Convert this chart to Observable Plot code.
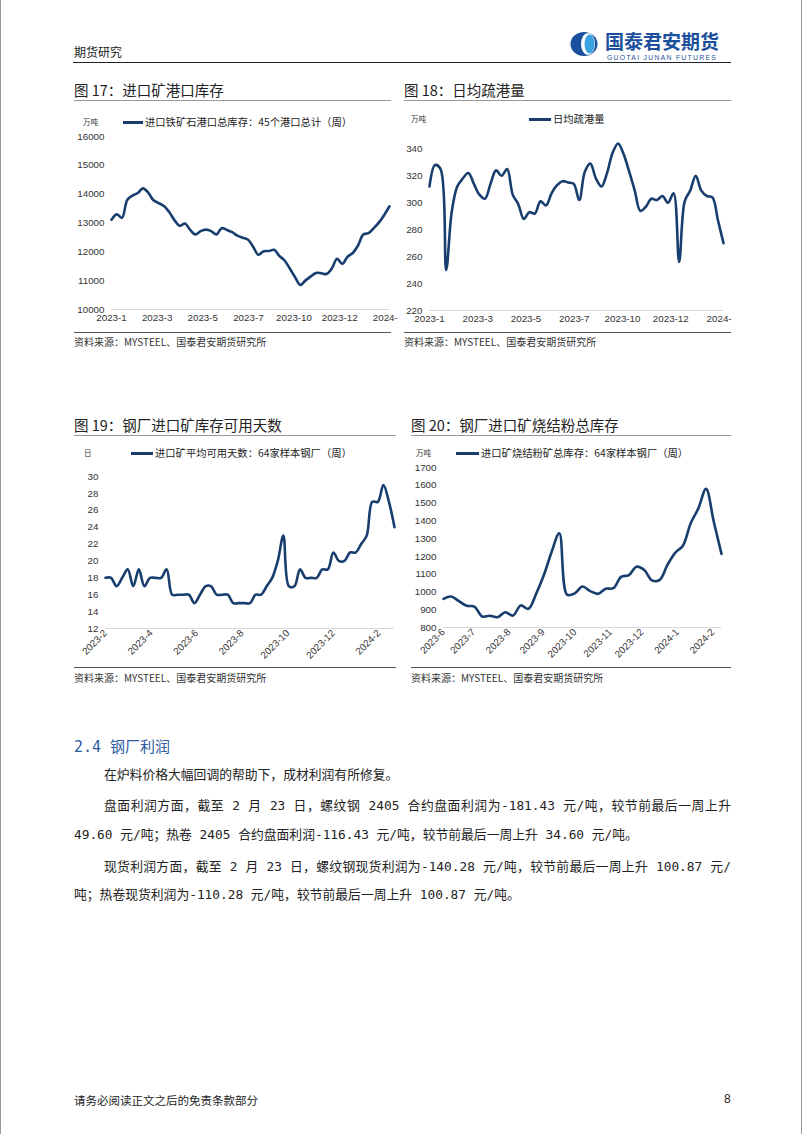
<!DOCTYPE html>
<html><head><meta charset="utf-8">
<script src="https://cdn.jsdelivr.net/npm/d3@7"></script>
<script src="https://cdn.jsdelivr.net/npm/@observablehq/plot@0.6"></script>
<style>
body{margin:0;background:#fff;}
#page{position:relative;width:802px;height:1134px;overflow:hidden;background:#fff;box-sizing:border-box;border-left:1px solid #999;border-right:1px solid #999;font-family:"Noto Sans CJK SC",sans-serif;}
.abs{position:absolute;white-space:nowrap;}
</style></head>
<body><div id="page">
<svg style="position:absolute;left:568px;top:31px" width="32" height="26">
  <ellipse cx="15" cy="13" rx="13.5" ry="12" fill="#1c4f9c"/>
  <ellipse cx="19" cy="13" rx="7" ry="11" fill="#fff"/>
  <ellipse cx="20.5" cy="13" rx="5" ry="9.5" fill="#3aa2e2"/>
</svg>
</div>
<script>
// ---------- data ----------
const c17Labels = ["2023-1","2023-3","2023-5","2023-7","2023-10","2023-12","2024-"];
const c17TickPos = [0, 8.7, 17.4, 26.1, 34.8, 43.5, 52.2];
const c17Values = [13115,13300,13180,13800,13950,14040,14200,14050,13790,13690,13590,13380,13100,12900,12980,12760,12600,12720,12770,12720,12600,12820,12760,12680,12560,12490,12430,12180,11900,12020,12030,12070,11860,11700,11420,11120,10850,11010,11150,11270,11260,11230,11420,11760,11580,11830,11960,12220,12600,12650,12820,13020,13280,13580];
const c17YTicks = [10000,11000,12000,13000,14000,15000,16000];

const c18Labels = ["2023-1","2023-3","2023-5","2023-7","2023-10","2023-12","2024-"];
const c18TickPos = [0, 8.7, 17.4, 26.1, 34.8, 43.5, 52.2];
const c18Values = [312,328,325,250,293,312,318,322,314,306,303,314,324,320,325,306,299,288,293,292,301,298,307,313,316,315,314,302,323,329,318,312,322,337,344,336,323,309,294,297,303,302,305,300,307,256,301,309,320,309,305,304,287,270];
const c18YTicks = [220,240,260,280,300,320,340];

const c19Labels = ["2023-2","2023-4","2023-6","2023-8","2023-10","2023-12","2024-2"];
const c19TickPos = [0, 8.2, 16.4, 24.6, 32.8, 41, 49.2];
const c19Values = [18,18,17,18,19,17,19,17,18,18,18,19,16,16,16,16,15,16,17,17,16,16,16,15,15,15,15,16,16,17,18,20,23,17,17,19,18,18,18,19,19,21,20,20,21,21,22,23,27,27,29,27,24];
const c19YTicks = [12,14,16,18,20,22,24,26,28,30];

const c20Labels = ["2023-6","2023-7","2023-8","2023-9","2023-10","2023-11","2023-12","2024-1","2024-2"];
const c20TickPos = [0, 3.9, 8.5, 12.9, 17, 21.6, 25.7, 30.3, 34.9];
const c20Values = [961,974,948,922,918,862,866,858,886,867,924,905,990,1095,1225,1330,985,992,1031,1005,989,1018,1021,1085,1095,1142,1123,1065,1068,1152,1220,1260,1385,1470,1580,1395,1214];
const c20YTicks = [800,900,1000,1100,1200,1300,1400,1500,1600,1700];

// ---------- helpers ----------
const page = document.getElementById("page");
const CJK = "'Noto Sans CJK SC', sans-serif";
const MIX = "'DejaVu Sans Mono','Noto Sans CJK SC', monospace";
function addText(x, yc, str, o = {}) {
  const d = document.createElement("div");
  const fs = o.size || 12;
  const lh = o.lh || fs * 1.3;
  d.className = "abs";
  d.textContent = str;
  Object.assign(d.style, {
    left: x + "px", top: (yc - lh / 2) + "px", fontSize: fs + "px",
    lineHeight: lh + "px", height: lh + "px", color: o.color || "#222",
    fontFamily: o.font || CJK, fontWeight: o.weight || "normal"
  });
  if (o.width) { d.style.width = o.width + "px"; d.style.whiteSpace = "normal"; d.style.textAlign = "justify"; d.style.textAlignLast = "justify"; d.style.overflow = "hidden"; }
  if (o.ls) d.style.letterSpacing = o.ls;
  page.appendChild(d);
  return d;
}
function addRule(x1, x2, y, color, w = 1) {
  const d = document.createElement("div");
  Object.assign(d.style, {position: "absolute", left: x1 + "px", top: (y - w / 2) + "px", width: (x2 - x1) + "px", height: w + "px", background: color});
  page.appendChild(d);
}
function legend(unit, ux, lx1, lx2, label, yc) {
  addText(ux, yc, unit, {size: 7.5, color: "#333"});
  addRule(lx1, lx2, yc, "#183e6e", 3);
  addText(lx2 + 2, yc, label, {size: 10.3, color: "#222"});
}
function makeChart(cfg) {
  const data = cfg.values.map((v, i) => ({i, v}));
  const lab = new Map(cfg.tickPos.map((p, k) => [p, cfg.labels[k]]));
  const svg = Plot.plot({
    width: cfg.w, height: cfg.h,
    marginLeft: cfg.ml, marginRight: cfg.mr, marginTop: cfg.mt, marginBottom: cfg.mb,
    style: {background: "transparent", fontFamily: "'Liberation Sans', Arial, sans-serif", fontSize: "9.8px", color: "#333", overflow: "visible"},
    x: {domain: [0, cfg.values.length - 1]},
    y: {domain: cfg.yDomain},
    marks: [
      Plot.ruleY([cfg.yDomain[0]], {stroke: "#d9d9d9", strokeWidth: 1}),
      Plot.axisY(cfg.yTicks, {tickSize: 0, tickPadding: cfg.ypad, tickFormat: d => String(d), label: null}),
      Plot.axisX(cfg.tickPos, {tickSize: 0, tickPadding: cfg.xpad, tickRotate: cfg.rotate || 0, tickFormat: d => lab.get(d), label: null}),
      Plot.line(data, {x: "i", y: "v", stroke: "#183e6e", strokeWidth: 2.6, curve: "catmull-rom"})
    ]
  });
  svg.style.position = "absolute";
  svg.style.left = cfg.left + "px";
  svg.style.top = cfg.top + "px";
  page.appendChild(svg);
}

// ---------- header ----------
addText(73, 52, "期货研究", {size: 12, color: "#222"});
addText(604, 40.5, "国泰君安期货", {size: 19, lh: 19, color: "#1c4f9c", weight: "bold"});
addText(606, 57.5, "GUOTAI JUNAN FUTURES", {size: 6.8, lh: 7, color: "#1c4f9c", font: "'Liberation Sans', Arial, sans-serif", ls: "1.3px"});
addRule(72, 730, 62.5, "#222", 1.5);

// ---------- chart titles ----------
addText(73, 90, "图 17：进口矿港口库存", {size: 14.5});
addRule(73, 390, 100, "#999", 1);
addText(403, 90, "图 18：日均疏港量", {size: 14.5});
addRule(403, 730, 100, "#999", 1);
addText(73, 425, "图 19：钢厂进口矿库存可用天数", {size: 14.5});
addRule(73, 395, 435, "#999", 1);
addText(410, 425, "图 20：钢厂进口矿烧结粉总库存", {size: 14.5});
addRule(410, 730, 435, "#999", 1);

// ---------- legends ----------
legend("万吨", 82, 122, 142, "进口铁矿石港口总库存：45个港口总计（周）", 122);
legend("万吨", 410, 528, 550, "日均疏港量", 119);
legend("日", 83, 130, 152, "进口矿平均可用天数：64家样本钢厂（周）", 453);
legend("万吨", 415, 455, 478, "进口矿烧结粉矿总库存：64家样本钢厂（周）", 453);

// ---------- charts ----------
makeChart({values: c17Values, tickPos: c17TickPos, labels: c17Labels, yDomain: [10000, 16000], yTicks: c17YTicks,
  left: 60, top: 110, w: 335, h: 220, ml: 50, mr: 7, mt: 26, mb: 21, ypad: 7, xpad: 5});
makeChart({values: c18Values, tickPos: c18TickPos, labels: c18Labels, yDomain: [220, 360], yTicks: c18YTicks,
  left: 395, top: 110, w: 340, h: 220, ml: 33, mr: 13, mt: 11.4, mb: 20, ypad: 7, xpad: 5});
makeChart({values: c19Values, tickPos: c19TickPos, labels: c19Labels, yDomain: [12, 30], yTicks: c19YTicks, rotate: -45,
  left: 60, top: 460, w: 340, h: 205, ml: 44, mr: 7, mt: 16, mb: 37, ypad: 7, xpad: 3});
makeChart({values: c20Values, tickPos: c20TickPos, labels: c20Labels, yDomain: [800, 1700], yTicks: c20YTicks, rotate: -45,
  left: 400, top: 460, w: 335, h: 205, ml: 42, mr: 15, mt: 7, mb: 38, ypad: 7, xpad: 3});

// ---------- sources ----------
addRule(73, 390, 332, "#555", 1);
addRule(403, 730, 332, "#555", 1);
addRule(73, 395, 667, "#555", 1);
addRule(410, 730, 667, "#555", 1);
addText(73, 341, "资料来源：MYSTEEL、国泰君安期货研究所", {size: 10, color: "#333"});
addText(403, 341, "资料来源：MYSTEEL、国泰君安期货研究所", {size: 10, color: "#333"});
addText(73, 677, "资料来源：MYSTEEL、国泰君安期货研究所", {size: 10, color: "#333"});
addText(410, 677, "资料来源：MYSTEEL、国泰君安期货研究所", {size: 10, color: "#333"});

// ---------- body text ----------
addText(73, 748, "2.4 钢厂利润", {size: 15, color: "#2e5aa0", font: MIX});
addText(103, 775, "在炉料价格大幅回调的帮助下，成材利润有所修复。", {size: 12.8, font: MIX});
addText(103, 806, "盘面利润方面，截至 2 月 23 日，螺纹钢 2405 合约盘面利润为-181.43 元/吨，较节前最后一周上升", {size: 12.8, font: MIX, width: 627});
addText(73, 835, "49.60 元/吨；热卷 2405 合约盘面利润-116.43 元/吨，较节前最后一周上升 34.60 元/吨。", {size: 12.8, font: MIX});
addText(103, 867, "现货利润方面，截至 2 月 23 日，螺纹钢现货利润为-140.28 元/吨，较节前最后一周上升 100.87 元/", {size: 12.8, font: MIX, width: 627});
addText(73, 895, "吨；热卷现货利润为-110.28 元/吨，较节前最后一周上升 100.87 元/吨。", {size: 12.8, font: MIX});

// ---------- footer ----------
addText(73, 1100, "请务必阅读正文之后的免责条款部分", {size: 11.5, color: "#222"});
addText(723, 1100, "8", {size: 12, color: "#222", font: "'Liberation Sans', Arial, sans-serif"});
</script>
</body></html>
